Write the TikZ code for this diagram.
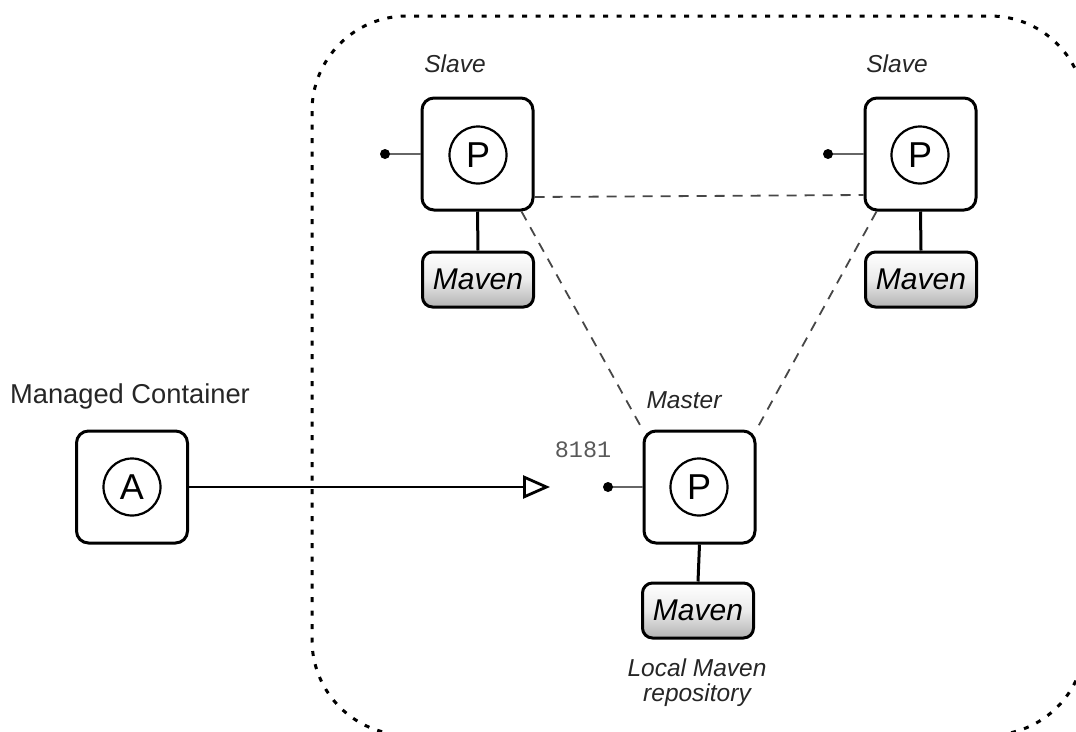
\documentclass[tikz,border=0pt]{standalone}
\usepackage{fontspec}
\setmainfont{Liberation Sans}
\setmonofont{Liberation Mono}
\usetikzlibrary{arrows.meta,calc}
\tikzset{
  boxnode/.style={draw=black, line width=3pt, rounded corners=12pt, minimum width=111pt, minimum height=112pt, fill=white, inner sep=0pt},
  procnode/.style={draw=black, line width=2.2pt, circle, minimum size=57pt, inner sep=0pt, font=\fontsize{36}{40}\selectfont},
  mavennode/.style={draw=black, line width=3pt, rounded corners=10pt, minimum width=111pt, minimum height=55pt, inner sep=0pt, top color=white, bottom color=black!30, middle color=black!8, font=\fontsize{30}{34}\selectfont\itshape},
  lbl/.style={font=\fontsize{24.5}{25}\selectfont\itshape, text=black!85, inner sep=0pt},
  portline/.style={draw=black!60, line width=2.5pt},
  portdot/.style={fill=black, circle, inner sep=0pt, minimum size=10pt},
  link/.style={draw=black, line width=3pt},
  peer/.style={draw=black!72, line width=1.8pt, dash pattern=on 10pt off 8pt},
  region/.style={draw=black, line width=3pt, dash pattern=on 5pt off 8.5pt, rounded corners=95pt},
}
\begin{document}
\begin{tikzpicture}[x=1pt, y=-1pt]
\useasboundingbox (0,0) rectangle (1076,731);
% cluster region
\draw[region] (312,16) rectangle (1085,735);

% nodes
\node[boxnode] (s1) at (477.5,154) {};
\node[procnode] (s1p) at (478,155) {P};
\node[mavennode] (s1m) at (478,279.5) {Maven};
\node[boxnode] (s2) at (920.5,154) {};
\node[procnode] (s2p) at (920,155) {P};
\node[mavennode] (s2m) at (921,279.5) {Maven};
\node[boxnode] (m) at (699.5,487) {};
\node[procnode] (mp) at (699,487) {P};
\node[mavennode] (mm) at (698,610.5) {Maven};
\node[boxnode] (a) at (132,487) {};
\node[procnode] (ap) at (132,487) {A};

% labels
\node[lbl] (ls1) at (455,64) {Slave};
\node[lbl] (ls2) at (897,64) {Slave};
\node[lbl] (lm) at (684,400) {Master};
\node[inner sep=0pt, text=black!65, font=\fontsize{23.5}{25}\ttfamily] (port) at (583,450) {8181};
\node[inner sep=0pt, text=black!85, font=\fontsize{27.3}{29}\selectfont] (lmc) at (130,396) {Managed Container};
\node[lbl, align=center, anchor=north] (lrepo) at (697,659) {Local Maven\\repository};

% ports
\coordinate (p1) at (385,154);
\coordinate (p2) at (828,154);
\coordinate (p3) at (608,487);
\draw[portline] (p1) -- (s1.west);
\draw[portline] (p2) -- (s2.west);
\draw[portline] (p3) -- (m.west);
\node[portdot] (d1) at (p1) {};
\node[portdot] (d2) at (p2) {};
\node[portdot] (d3) at (p3) {};

% maven links
\draw[link] (s1.south) -- (s1m.north);
\draw[link] (s2.south) -- (s2m.north);
\draw[link] (m.south) -- (mm.north);

% peer links
\draw[peer] ([yshift=-43pt]s1.east) -- ([yshift=-41pt]s2.west);
\draw[peer] ([xshift=-13pt]s1.south east) -- (m.north west);
\draw[peer] ([xshift=13pt]s2.south west) -- (m.north east);

% client connection
\coordinate (tip) at (550,487);
\draw[line width=2.5pt, -{Triangle[open, length=27pt, width=23pt, line width=2.8pt]}] (a.east) -- (tip);
\end{tikzpicture}
\end{document}
